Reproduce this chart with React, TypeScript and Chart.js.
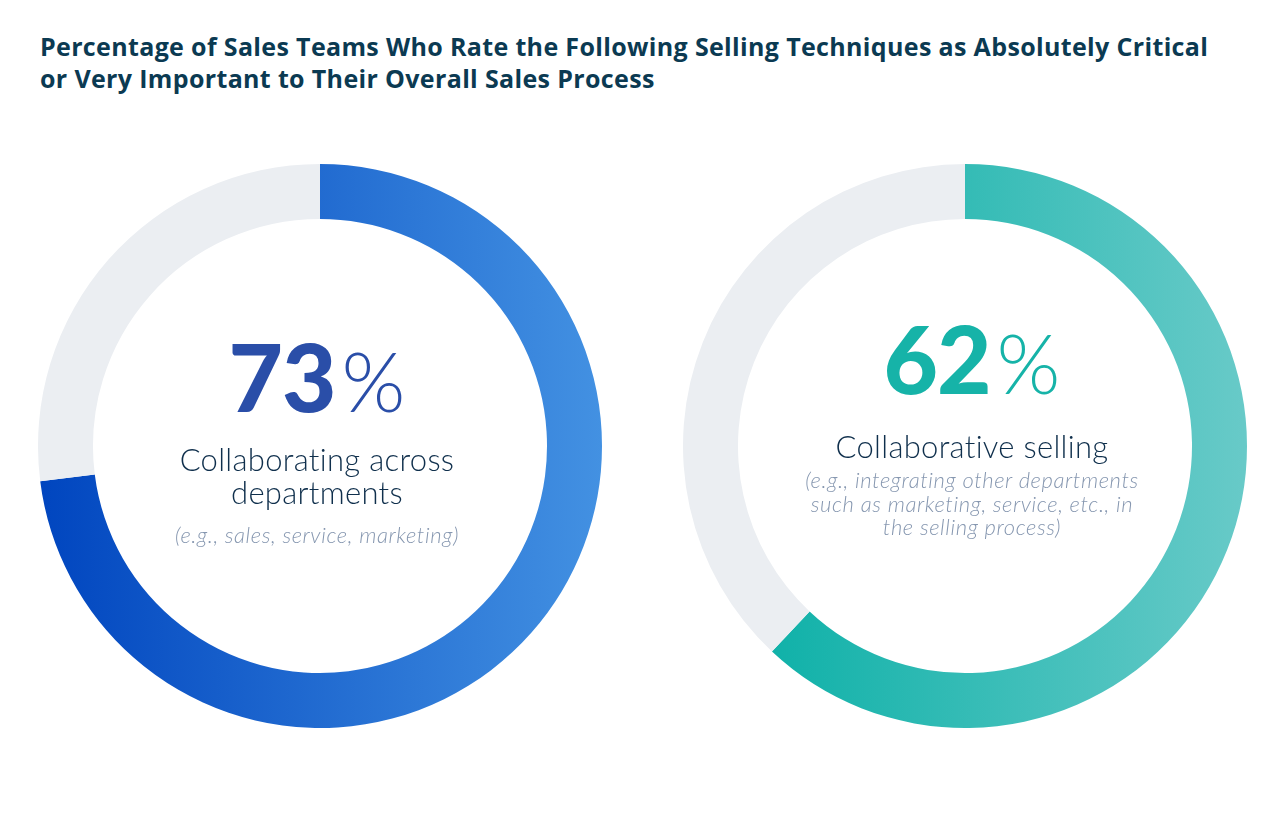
import React, { useEffect, useRef } from "react";
import { Chart, registerables } from "chart.js";

Chart.register(...registerables);

const titleLines = [
  "Percentage of Sales Teams Who Rate the Following Selling Techniques as Absolutely Critical",
  "or Very Important to Their Overall Sales Process",
];
const segmentLabels = ["Critical or very important", "Other"];
const leftValues = [73, 27];
const rightValues = [62, 38];
const leftBig = "73";
const rightBig = "62";
const leftLabel = ["Collaborating across", "departments"];
const leftNote = ["(e.g., sales, service, marketing)"];
const rightLabel = ["Collaborative selling"];
const rightNote = [
  "(e.g., integrating other departments",
  "such as marketing, service, etc., in",
  "the selling process)",
];

const GREY = "#ebeef2";

function Donut(props: { values: number[]; from: string; to: string; left: number; top: number; size: number }) {
  const ref = useRef<HTMLCanvasElement | null>(null);
  useEffect(() => {
    if (!ref.current) return;
    const chart = new Chart(ref.current, {
      type: "doughnut",
      data: {
        labels: segmentLabels,
        datasets: [
          {
            data: props.values,
            backgroundColor: (c: any) => {
              if (c.dataIndex === 1) return GREY;
              const area = c.chart.chartArea;
              if (!area) return props.from;
              const g = c.chart.ctx.createLinearGradient(area.left, 0, area.right, 0);
              g.addColorStop(0, props.from);
              g.addColorStop(1, props.to);
              return g;
            },
            borderWidth: 0,
            hoverOffset: 0,
          },
        ],
      },
      options: {
        animation: false,
        responsive: false,
        maintainAspectRatio: false,
        cutout: "80.5%",
        layout: { padding: 0 },
        plugins: { legend: { display: false }, tooltip: { enabled: false } },
        events: [],
      },
    });
    return () => chart.destroy();
  }, []);
  return (
    <canvas
      ref={ref}
      width={props.size}
      height={props.size}
      style={{ position: "absolute", left: props.left, top: props.top, width: props.size, height: props.size }}
    />
  );
}

function Center(props: {
  cx: number;
  top: number;
  big: string;
  color: string;
  label: string[];
  note: string[];
  labelSize: number;
  noteSize: number;
  noteLine: number;
  labelLine: number;
  labelGap: number;
  noteGap: number;
}) {
  return (
    <div
      style={{
        position: "absolute",
        left: props.cx - 250,
        top: props.top,
        width: 500,
        textAlign: "center",
        fontFamily: "Lato, 'Open Sans', sans-serif",
      }}
    >
      <div style={{ color: props.color, lineHeight: "100px", height: 100, whiteSpace: "nowrap" }}>
        <span style={{ fontSize: 94, fontWeight: 900, letterSpacing: -1 }}>{props.big}</span>
        <span style={{ fontSize: 82, fontWeight: 300, marginLeft: 6 }}>%</span>
      </div>
      <div
        style={{
          color: "#0f2f4c",
          fontSize: props.labelSize,
          fontWeight: 300,
          lineHeight: props.labelLine + "px",
          marginTop: props.labelGap,
          letterSpacing: 0.3,
        }}
      >
        {props.label.map((l, i) => (
          <div key={i}>{l}</div>
        ))}
      </div>
      <div
        style={{
          color: "#8697b0",
          fontSize: props.noteSize,
          fontStyle: "italic",
          fontWeight: 300,
          lineHeight: props.noteLine + "px",
          marginTop: props.noteGap,
          letterSpacing: 0.6,
        }}
      >
        {props.note.map((l, i) => (
          <div key={i}>{l}</div>
        ))}
      </div>
    </div>
  );
}

export default function App() {
  const R = 282;
  return (
    <div style={{ position: "relative", width: 1266, height: 798, background: "#ffffff", overflow: "hidden" }}>
      <div
        style={{
          position: "absolute",
          left: 32,
          top: 22,
          fontFamily: "'Open Sans', sans-serif",
          fontWeight: 700,
          fontSize: 25,
          lineHeight: "32px",
          color: "#0b3a52",
          whiteSpace: "nowrap",
          letterSpacing: 0.35,
        }}
      >
        {titleLines.map((l, i) => (
          <div key={i}>{l}</div>
        ))}
      </div>
      <Donut values={leftValues} from="#0045bf" to="#4391e2" left={320 - R - 8} top={446 - R - 8} size={2 * R} />
      <Donut values={rightValues} from="#00ada3" to="#68cac8" left={965 - R - 8} top={446 - R - 8} size={2 * R} />
      <Center
        cx={317 - 8}
        top={318}
        big={leftBig}
        color="#2a4ea8"
        label={leftLabel}
        note={leftNote}
        labelSize={31}
        labelLine={33}
        labelGap={17}
        noteSize={22}
        noteLine={26}
        noteGap={13}
      />
      <Center
        cx={972 - 8}
        top={300}
        big={rightBig}
        color="#16b3a8"
        label={rightLabel}
        note={rightNote}
        labelSize={31}
        labelLine={33}
        labelGap={22}
        noteSize={22}
        noteLine={23.5}
        noteGap={5}
      />
    </div>
  );
}
